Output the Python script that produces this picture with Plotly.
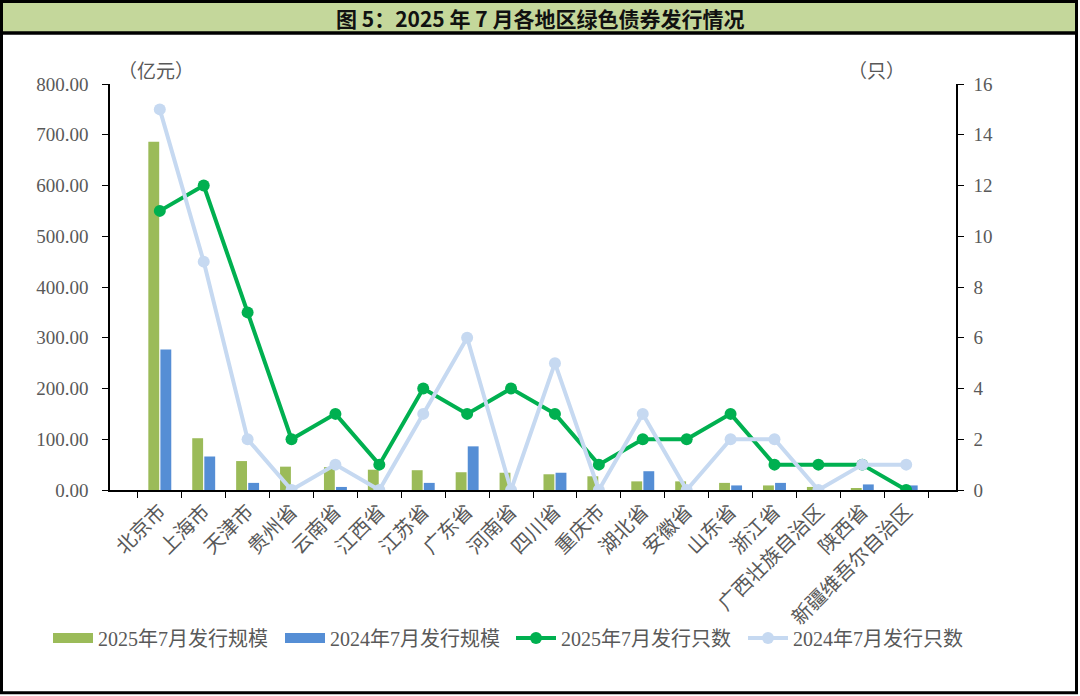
import plotly.graph_objects as go

categories = ["北京市", "上海市", "天津市", "贵州省", "云南省", "江西省", "江苏省", "广东省", "河南省",
              "四川省", "重庆市", "湖北省", "安徽省", "山东省", "浙江省", "广西壮族自治区", "陕西省", "新疆维吾尔自治区"]
scale_2025 = [686, 102, 57, 46, 45, 40, 39, 35, 34, 31, 27, 17, 17, 14, 9, 6, 3, 0]
scale_2024 = [277, 66, 14, 0, 6, 0, 14, 86, 0, 34, 0, 37, 0, 9, 14, 0, 11, 9]
count_2025 = [11, 12, 7, 2, 3, 1, 4, 3, 4, 3, 1, 2, 2, 3, 1, 1, 1, 0]
count_2024 = [15, 9, 2, 0, 1, 0, 3, 6, 0, 5, 0, 3, 0, 2, 2, 0, 1, 1]
series_names = ["2025年7月发行规模", "2024年7月发行规模", "2025年7月发行只数", "2024年7月发行只数"]
left_ticks = [0, 100, 200, 300, 400, 500, 600, 700, 800]
right_ticks = [0, 2, 4, 6, 8, 10, 12, 14, 16]

W, H = 1080, 696
L, R, T, B = 110, 956, 84, 490.5
SERIF = "Liberation Serif, 'Times New Roman', 'Noto Sans CJK SC', serif"
GREY = "#595959"
C_G25, C_B24, C_L25, C_L24 = "#9BBB59", "#558ED5", "#00B050", "#C6D9F1"

def px(X):
    return (X - L) / (R - L)

def py(Y):
    return (B - Y) / (B - T)

fig = go.Figure()
fig.add_trace(go.Bar(x=categories, y=scale_2025, name=series_names[0], marker_color=C_G25,
                     marker_line_width=0, showlegend=False))
fig.add_trace(go.Bar(x=categories, y=scale_2024, name=series_names[1], marker_color=C_B24,
                     marker_line_width=0, showlegend=False))
fig.add_trace(go.Scatter(x=categories, y=count_2025, name=series_names[2], yaxis="y2",
                         mode="lines+markers", line=dict(color=C_L25, width=4),
                         marker=dict(color=C_L25, size=12), legend="legend3"))
fig.add_trace(go.Scatter(x=categories, y=count_2024, name=series_names[3], yaxis="y2",
                         mode="lines+markers", line=dict(color=C_L24, width=4),
                         marker=dict(color=C_L24, size=12), legend="legend4"))
# legend swatches for the bar series (wide rectangles like the reference)
fig.add_trace(go.Scatter(x=[None], y=[None], name=series_names[0], mode="lines",
                         line=dict(color=C_G25, width=13), legend="legend", hoverinfo="skip"))
fig.add_trace(go.Scatter(x=[None], y=[None], name=series_names[1], mode="lines",
                         line=dict(color=C_B24, width=13), legend="legend2", hoverinfo="skip"))

shapes = [
    dict(type="rect", xref="paper", yref="paper", x0=px(2), x1=px(1077), y0=py(33), y1=py(2),
         fillcolor="#C4D79B", line=dict(width=0), layer="below"),
    dict(type="line", xref="paper", yref="paper", x0=px(1.5), x1=px(1077), y0=py(33), y1=py(33),
         line=dict(color="black", width=3.5)),
    dict(type="rect", xref="paper", yref="paper", x0=px(1.5), x1=px(1076.5), y0=py(693.5), y1=py(1.5),
         line=dict(color="black", width=3), fillcolor="rgba(0,0,0,0)"),
]

annotations = [
    dict(text="<b>图 5：2025 年 7 月各地区绿色债券发行情况</b>", xref="paper", yref="paper",
         x=px(540), y=py(17.5), xanchor="center", yanchor="middle", showarrow=False,
         font=dict(family="Noto Sans CJK SC", size=21, color="#111111")),
    dict(text="（亿元）", xref="paper", yref="paper", x=px(116), y=py(69), xanchor="left",
         yanchor="middle", showarrow=False, font=dict(family="Noto Sans CJK SC", size=19, color=GREY)),
    dict(text="（只）", xref="paper", yref="paper", x=px(846), y=py(69), xanchor="left",
         yanchor="middle", showarrow=False, font=dict(family="Noto Sans CJK SC", size=19, color=GREY)),
]

def leg(xpix):
    return dict(orientation="h", xref="container", yref="container", x=xpix / W, y=1 - 638 / H,
                xanchor="left", yanchor="middle", itemwidth=40,
                font=dict(family=SERIF, size=20, color=GREY), bgcolor="rgba(0,0,0,0)")

fig.update_layout(
    width=W, height=H,
    margin=dict(l=L, r=W - R, t=T, b=H - B, pad=0, autoexpand=False),
    paper_bgcolor="white", plot_bgcolor="white",
    barmode="group", bargap=0.45, bargroupgap=0.1,
    showlegend=True,
    legend=leg(48), legend2=leg(280), legend3=leg(511), legend4=leg(743),
    xaxis=dict(type="category", tickangle=-45, tickson="boundaries", ticks="outside", ticklen=6,
               tickcolor="black", showline=True, linecolor="black", linewidth=1.5, showgrid=False,
               automargin=False, tickfont=dict(family=SERIF, size=20, color=GREY)),
    yaxis=dict(range=[0, 800], tickvals=left_ticks, ticktext=[f"{v:.2f}" for v in left_ticks],
               ticks="outside", ticklen=6, tickcolor="black", showline=True, linecolor="black",
               linewidth=1.5, showgrid=False, zeroline=False, automargin=False,
               ticklabelstandoff=10, tickfont=dict(family=SERIF, size=19, color=GREY)),
    yaxis2=dict(range=[0, 16], tickvals=right_ticks, overlaying="y", side="right",
                ticks="outside", ticklen=6, tickcolor="black", showline=True, linecolor="black",
                linewidth=1.5, showgrid=False, zeroline=False, automargin=False,
                ticklabelstandoff=6, tickfont=dict(family=SERIF, size=19, color=GREY)),
    shapes=shapes, annotations=annotations,
)

fig.write_html("out.html", config={"displayModeBar": False},
               post_script="document.body.style.margin='0';document.body.style.padding='0';")
